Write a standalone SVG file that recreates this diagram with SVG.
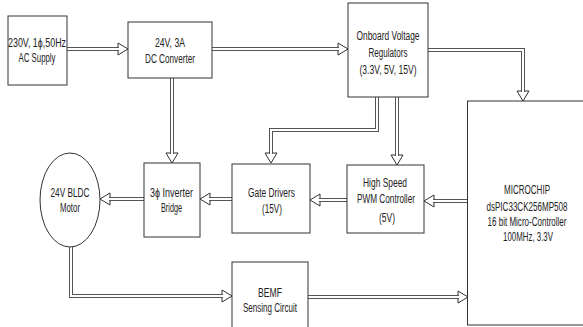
<svg xmlns="http://www.w3.org/2000/svg" width="583" height="327" viewBox="0 0 583 327">
<style>
.box{fill:#fff;stroke:#333;stroke-width:1}
.t{font-family:"Liberation Sans",Arial,sans-serif;font-size:12px;fill:#222;text-anchor:middle}
.lo{fill:none;stroke:#555;stroke-width:4}
.li{fill:none;stroke:#fff;stroke-width:2}
.ah{fill:#fff;stroke:#333;stroke-width:1;stroke-linejoin:miter}
</style>
<rect width="583" height="327" fill="#fff"/>
<g id="connectors">
<polygon class="ah" points="118,43 128,49 118,55"/>
<path class="lo" d="M67,49H119"/><path class="li" d="M67,49H119"/>
<polygon class="ah" points="338,43 348,49 338,55"/>
<path class="lo" d="M212,49H339"/><path class="li" d="M212,49H339"/>
<polygon class="ah" points="517,91 523,101 529,91"/>
<path class="lo" d="M428,50H523V92"/><path class="li" d="M428,50H523V92"/>
<polygon class="ah" points="265,153 271,163 277,153"/>
<path class="lo" d="M377,97V130H271V154"/><path class="li" d="M377,97V130H271V154"/>
<polygon class="ah" points="391,155 397,165 403,155"/>
<path class="lo" d="M397,97V156"/><path class="li" d="M397,97V156"/>
<polygon class="ah" points="166,153 172,163 178,153"/>
<path class="lo" d="M172,78V154"/><path class="li" d="M172,78V154"/>
<polygon class="ah" points="434,195 424,201 434,207"/>
<path class="lo" d="M468,201H433"/><path class="li" d="M468,201H433"/>
<polygon class="ah" points="320,194 310,200 320,206"/>
<path class="lo" d="M347,200H319"/><path class="li" d="M347,200H319"/>
<polygon class="ah" points="210,193 200,199 210,205"/>
<path class="lo" d="M232,199H209"/><path class="li" d="M232,199H209"/>
<polygon class="ah" points="110,193 100,199 110,205"/>
<path class="lo" d="M144,199H109"/><path class="li" d="M144,199H109"/>
<polygon class="ah" points="222,290 232,296 222,302"/>
<path class="lo" d="M71,247V296H223"/><path class="li" d="M71,247V296H223"/>
<polygon class="ah" points="458,291 468,297 458,303"/>
<path class="lo" d="M308,297H459"/><path class="li" d="M308,297H459"/>
</g>
<g id="ac-supply">
<rect class="box" x="8" y="16" width="59" height="69"/>
<text class="t" x="37" y="47" textLength="58" lengthAdjust="spacingAndGlyphs">230V, 1ϕ,50Hz</text>
<text class="t" x="37" y="62" textLength="37" lengthAdjust="spacingAndGlyphs">AC Supply</text>
</g>
<g id="dc-converter">
<rect class="box" x="128" y="22" width="84" height="56"/>
<text class="t" x="170" y="47" textLength="30" lengthAdjust="spacingAndGlyphs">24V, 3A</text>
<text class="t" x="170" y="63" textLength="50" lengthAdjust="spacingAndGlyphs">DC Converter</text>
</g>
<g id="regulators">
<rect class="box" x="348" y="3" width="80" height="94"/>
<text class="t" x="388" y="40" textLength="63" lengthAdjust="spacingAndGlyphs">Onboard Voltage</text>
<text class="t" x="388" y="57" textLength="39" lengthAdjust="spacingAndGlyphs">Regulators</text>
<text class="t" x="388" y="74" textLength="57" lengthAdjust="spacingAndGlyphs">(3.3V, 5V, 15V)</text>
</g>
<g id="microchip">
<rect class="box" x="467.5" y="101" width="117" height="224"/>
<text class="t" x="527" y="194" textLength="46" lengthAdjust="spacingAndGlyphs">MICROCHIP</text>
<text class="t" transform="translate(527 211) scale(0.67 1)" x="0" y="0" textLength="121" lengthAdjust="spacingAndGlyphs">dsPIC33CK256MP508</text>
<text class="t" transform="translate(527 226) scale(0.65 1)" x="0" y="0" textLength="121.5" lengthAdjust="spacingAndGlyphs">16 bit Micro-Controller</text>
<text class="t" x="528" y="241" textLength="50" lengthAdjust="spacingAndGlyphs">100MHz, 3.3V</text>
</g>
<g id="pwm-controller">
<rect class="box" x="347" y="165" width="77" height="68"/>
<text class="t" x="385" y="187" textLength="44" lengthAdjust="spacingAndGlyphs">High Speed</text>
<text class="t" x="386" y="203" textLength="58" lengthAdjust="spacingAndGlyphs">PWM Controller</text>
<text class="t" x="387" y="222" textLength="16" lengthAdjust="spacingAndGlyphs">(5V)</text>
</g>
<g id="gate-drivers">
<rect class="box" x="232" y="164" width="78" height="69"/>
<text class="t" x="271.5" y="197" textLength="47" lengthAdjust="spacingAndGlyphs">Gate Drivers</text>
<text class="t" x="272" y="213" textLength="20" lengthAdjust="spacingAndGlyphs">(15V)</text>
</g>
<g id="inverter">
<rect class="box" x="144" y="163" width="56" height="74"/>
<text class="t" x="171.5" y="197" textLength="43" lengthAdjust="spacingAndGlyphs">3ϕ Inverter</text>
<text class="t" x="171.5" y="212" textLength="21" lengthAdjust="spacingAndGlyphs">Bridge</text>
</g>
<g id="motor">
<ellipse class="box" cx="70" cy="200" rx="30" ry="47"/>
<text class="t" x="70" y="197" textLength="39" lengthAdjust="spacingAndGlyphs">24V BLDC</text>
<text class="t" x="70" y="212" textLength="20" lengthAdjust="spacingAndGlyphs">Motor</text>
</g>
<g id="bemf">
<rect class="box" x="232" y="262" width="76" height="70"/>
<text class="t" x="270" y="297" textLength="24" lengthAdjust="spacingAndGlyphs">BEMF</text>
<text class="t" x="270" y="312" textLength="54" lengthAdjust="spacingAndGlyphs">Sensing Circuit</text>
</g>
</svg>
